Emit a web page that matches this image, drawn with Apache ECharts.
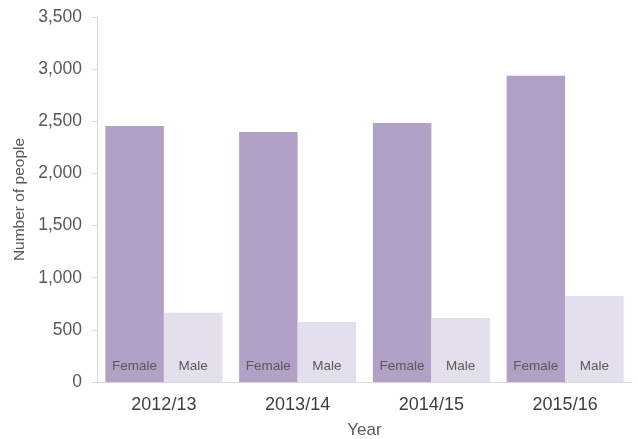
<!DOCTYPE html>
<html>
<head>
<meta charset="utf-8">
<script src="https://cdn.jsdelivr.net/npm/echarts@6/dist/echarts.min.js"></script>
<style>
  html, body { margin: 0; padding: 0; background: #fff; overflow: hidden; }
  #chart { width: 638px; height: 439px; }
</style>
</head>
<body>
<div id="chart"></div>
<script>
var years = ['2012/13', '2013/14', '2014/15', '2015/16'];
var female = [2455, 2397, 2483, 2937];
var male = [664, 575, 613, 824];

var font = 'Liberation Sans, Arial, sans-serif';
var chart = echarts.init(document.getElementById('chart'), null, { width: 638, height: 439 });

var barLabel = function (text) {
    return {
        show: true,
        position: 'insideBottom',
        distance: 9,
        formatter: text,
        color: '#595959',
        fontFamily: font,
        fontSize: 13.5
    };
};

var option = {
    animation: false,
    grid: {
        left: 97,
        right: 6,
        top: 17,
        bottom: 57,
        outerBoundsMode: 'none'
    },
    xAxis: {
        type: 'category',
        data: years,
        name: 'Year',
        nameLocation: 'middle',
        nameGap: 40,
        nameTextStyle: { color: '#595959', fontSize: 17, fontFamily: font },
        axisLine: { lineStyle: { color: '#d9d9d9', width: 1 } },
        axisTick: { show: false },
        axisLabel: { color: '#404040', fontSize: 18, margin: 14, fontFamily: font }
    },
    yAxis: {
        type: 'value',
        min: 0,
        max: 3500,
        interval: 500,
        name: 'Number of people',
        nameLocation: 'middle',
        nameGap: 66,
        nameTextStyle: { color: '#595959', fontSize: 15.5, fontFamily: font },
        axisLine: { show: true, lineStyle: { color: '#d9d9d9', width: 1 } },
        axisTick: { show: true, length: 5, lineStyle: { color: '#d9d9d9' } },
        splitLine: { show: false },
        axisLabel: {
            color: '#595959',
            fontSize: 17.5,
            margin: 15,
            fontFamily: font,
            formatter: function (v) { return v.toLocaleString('en-US'); }
        }
    },
    series: [
        {
            name: 'Female',
            type: 'bar',
            data: female,
            barGap: '0%',
            barCategoryGap: '12.5%',
            itemStyle: { color: '#b1a1c7' },
            label: barLabel('Female')
        },
        {
            name: 'Male',
            type: 'bar',
            data: male,
            itemStyle: { color: '#e4dfec' },
            label: barLabel('Male')
        }
    ]
};

chart.setOption(option);
</script>
</body>
</html>
